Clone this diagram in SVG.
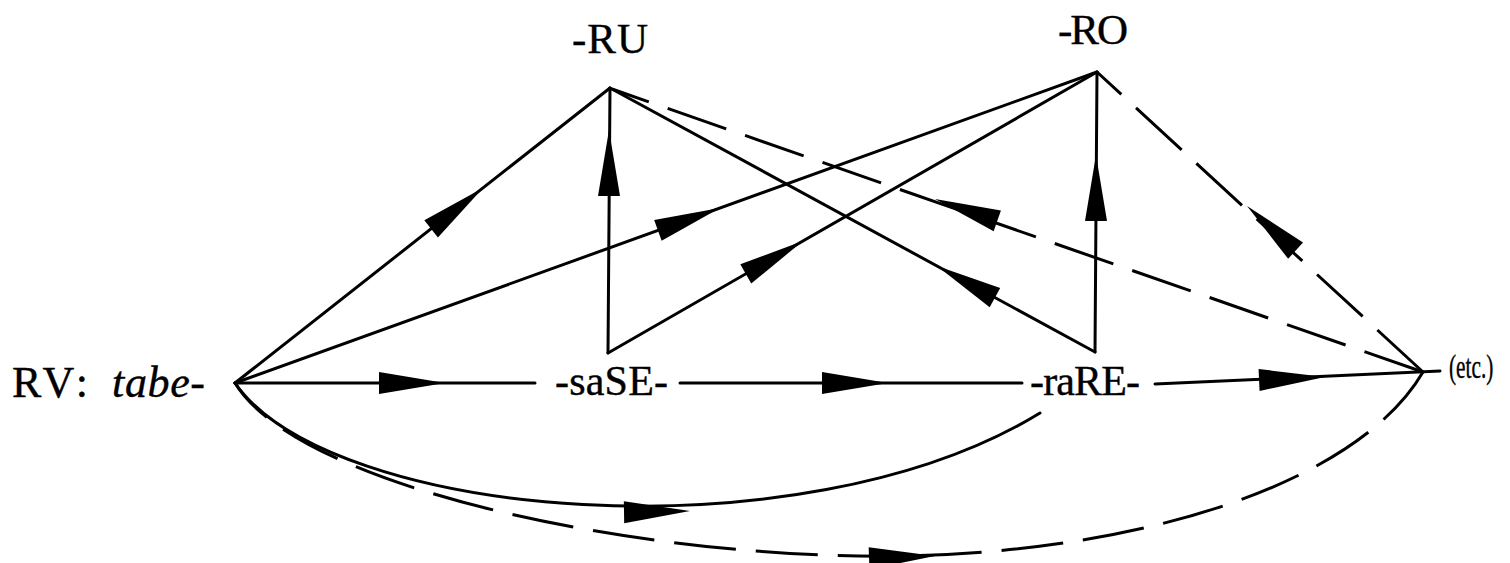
<svg xmlns="http://www.w3.org/2000/svg" width="1510" height="563" viewBox="0 0 1510 563">
<style>
.lbl{font-family:"Liberation Serif","DejaVu Serif",serif;font-size:42px;fill:#000;stroke:#000;stroke-width:0.4}
.it{font-style:italic}
.ln{fill:none;stroke:#000;stroke-width:3;stroke-linecap:round}
.ds{stroke-dasharray:62 20;stroke-linecap:butt}
.ah{fill:#000}
</style>
<defs>
<path id="ah" d="M0,0 L-66,-11 L-66,11 Z"/>
</defs>
<rect width="1510" height="563" fill="#fff"/>
<g id="connectors">
<line class="ln" x1="235" y1="383" x2="610" y2="88"/>
<line class="ln" x1="235" y1="383" x2="1097" y2="72"/>
<line class="ln" x1="608" y1="353" x2="610" y2="88"/>
<line class="ln" x1="608" y1="353" x2="1097" y2="72"/>
<line class="ln" x1="1095" y1="352" x2="610" y2="88"/>
<line class="ln" x1="1095" y1="352" x2="1097" y2="72"/>
<line class="ln ds" x1="1423" y1="372" x2="612" y2="89"/>
<line class="ln ds" x1="1423" y1="372" x2="1097" y2="72"/>
<line class="ln" x1="235" y1="383" x2="535" y2="383"/>
<line class="ln" x1="680" y1="383" x2="1022" y2="383"/>
<line class="ln" x1="1155" y1="384" x2="1440" y2="371"/>
<path class="ln" d="M235,383 C330,520 800,560 1040,413"/>
<path class="ln ds" d="M1423,372 C1360,480 1150,552 900,556 C650,560 300,490 235,383"/>
<use href="#ah" class="ah" transform="translate(483,188) rotate(-38.2)"/>
<use href="#ah" class="ah" transform="translate(720,208) rotate(-19.8)"/>
<use href="#ah" class="ah" transform="translate(609,130) rotate(-90)"/>
<use href="#ah" class="ah" transform="translate(803,241) rotate(-29.9)"/>
<use href="#ah" class="ah" transform="translate(937,266) rotate(208.6)"/>
<use href="#ah" class="ah" transform="translate(1096,155) rotate(-90)"/>
<use href="#ah" class="ah" transform="translate(935,199) rotate(199.3)"/>
<use href="#ah" class="ah" transform="translate(1247,206) rotate(222.6)"/>
<use href="#ah" class="ah" transform="translate(445,383)"/>
<use href="#ah" class="ah" transform="translate(888,383)"/>
<use href="#ah" class="ah" transform="translate(1325,377) rotate(-2.6)"/>
<use href="#ah" class="ah" transform="translate(690,511) rotate(-1)"/>
<use href="#ah" class="ah" transform="translate(935,556) rotate(-2)"/>
</g>
<g id="node-rv"><text class="lbl" x="12" y="397" style="font-size:44px"><tspan textLength="76">RV:</tspan><tspan class="it" x="112" textLength="93">tabe-</tspan></text></g>
<g id="node-sase"><text class="lbl" x="555" y="395" textLength="113">-saSE-</text></g>
<g id="node-rare"><text class="lbl" x="1030" y="395" textLength="110">-raRE-</text></g>
<g id="node-ru"><text class="lbl" x="572" y="53" style="font-size:43px" textLength="76">-RU</text></g>
<g id="node-ro"><text class="lbl" x="1058" y="44" style="font-size:43px" textLength="70">-RO</text></g>
<g id="node-etc"><text class="lbl" transform="translate(1449,378) scale(0.82,1.3)" x="0" y="0" style="font-size:26px;stroke-width:0.3">(etc.)</text></g>
</svg>
